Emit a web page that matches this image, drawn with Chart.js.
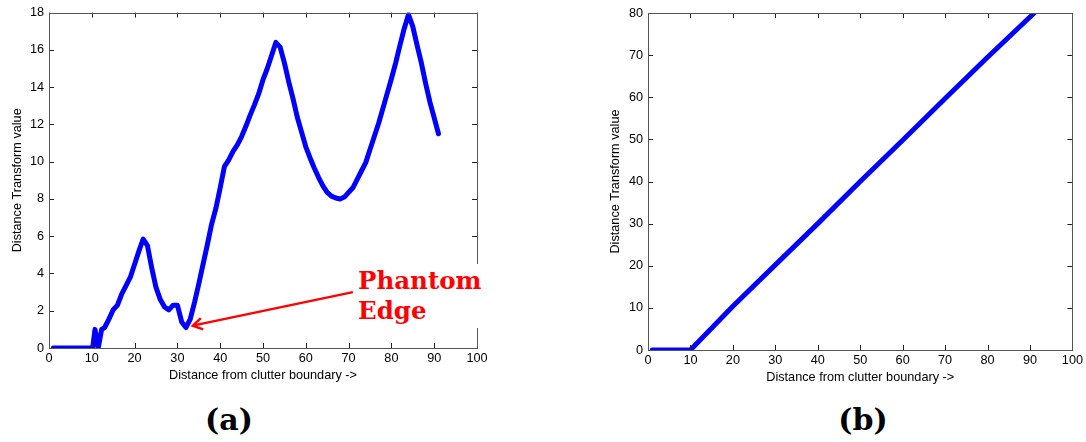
<!DOCTYPE html>
<html>
<head>
<meta charset="utf-8">
<script src="https://cdn.jsdelivr.net/npm/chart.js@4"></script>
<style>
  body { margin: 0; background: #fff; width: 1086px; height: 442px; overflow: hidden; position: relative; }
  canvas { position: absolute; top: 0; }
  #chartA { left: 0; }
  #chartB { left: 580px; }
  .tag { position: absolute; font-family: "DejaVu Serif"; font-weight: bold; font-size: 30px; line-height: 30px; color: #000; transform: translateX(-50%); }
  #phantom { position: absolute; left: 358px; top: 264px; width: 127px; padding-top: 2px; height: 62px;
             background: #fff; color: #ff0000; font-family: "DejaVu Serif"; font-weight: bold;
             font-size: 24.5px; line-height: 30px; z-index: 2; }
</style>
</head>
<body>
<canvas id="chartA" width="500" height="400"></canvas>
<canvas id="chartB" width="506" height="400"></canvas>
<div class="tag" style="left:229px; top:405px;">(a)</div>
<div class="tag" style="left:863px; top:405px;">(b)</div>
<div id="phantom">Phantom<br>Edge</div>
<script>
// (a) distance transform along the profile
let xsA = [1, 2, 3, 4, 5, 6, 7, 8, 9, 10.2, 10.75, 11.5, 12.3, 13, 14, 15, 16, 17, 18, 19,
           20, 21, 22, 23, 24, 25, 26, 27, 28, 29, 30, 31, 32, 33, 34, 35, 36, 37, 38, 39,
           40, 41, 42, 43, 44, 45, 46, 47, 48, 49, 50, 51, 52, 53, 54, 55, 56, 57, 58, 59,
           60, 61, 62, 63, 64, 65, 66, 67, 68, 69, 70, 71, 72, 73, 74, 75, 76, 77, 78, 79,
           80, 81, 82, 83, 84, 85, 86, 87, 88, 89, 90, 91];
let ysA = [0, 0, 0, 0, 0, 0, 0, 0, 0, 0, 1.0, 0, 1.0, 1.1, 1.55, 2.05, 2.3, 2.9, 3.35, 3.8,
           4.5, 5.2, 5.85, 5.5, 4.3, 3.25, 2.6, 2.2, 2.05, 2.3, 2.3, 1.4, 1.1, 1.55, 2.45, 3.45, 4.5, 5.55, 6.65, 7.5,
           8.6, 9.75, 10.1, 10.55, 10.9, 11.35, 11.9, 12.5, 13.05, 13.65, 14.4, 15.0, 15.7, 16.4, 16.15, 15.3, 14.3, 13.4, 12.4, 11.6,
           10.8, 10.2, 9.65, 9.15, 8.7, 8.35, 8.15, 8.05, 8.0, 8.1, 8.35, 8.6, 9.05, 9.5, 9.95, 10.65, 11.35, 12.05, 12.85, 13.65,
           14.45, 15.3, 16.25, 17.15, 17.9, 17.25, 16.25, 15.3, 14.2, 13.2, 12.35, 11.5];

// (b) distance transform without phantom edge
let xsB = [1, 10, 20, 30, 40, 50, 60, 70, 80, 91];
let ysB = [0, 0, 10.4, 20.2, 30, 40, 49.8, 59.7, 69.5, 80];

// arrow of the annotation, in data units: tail -> tip
let arrowTail = [71, 3];
let arrowTip = [33.6, 1.2];

let tickFont = { family: "Liberation Sans", size: 12.7 };

let frameTicks = {
  id: 'frameTicks',
  afterDraw(chart) {
    let ctx = chart.ctx, a = chart.chartArea;
    let xs = chart.scales.x, ys = chart.scales.y;
    ctx.save();
    ctx.strokeStyle = '#222';
    ctx.lineWidth = 1;
    ctx.beginPath();
    xs.ticks.forEach(t => {
      let px = Math.round(xs.getPixelForValue(t.value)) + 0.5;
      ctx.moveTo(px, a.bottom); ctx.lineTo(px, a.bottom - 5);
      ctx.moveTo(px, a.top); ctx.lineTo(px, a.top + 5);
    });
    ys.ticks.forEach(t => {
      let py = Math.round(ys.getPixelForValue(t.value)) + 0.5;
      ctx.moveTo(a.left, py); ctx.lineTo(a.left + 5, py);
      ctx.moveTo(a.right, py); ctx.lineTo(a.right - 5, py);
    });
    ctx.stroke();
    ctx.strokeStyle = '#555';
    ctx.strokeRect(Math.round(a.left) + 0.5, Math.round(a.top) + 0.5,
                   Math.round(a.right - a.left), Math.round(a.bottom - a.top));
    ctx.restore();
  }
};

let arrowPlugin = {
  id: 'arrow',
  afterDatasetsDraw(chart) {
    let ctx = chart.ctx, xs = chart.scales.x, ys = chart.scales.y;
    let x0 = xs.getPixelForValue(arrowTail[0]), y0 = ys.getPixelForValue(arrowTail[1]);
    let x1 = xs.getPixelForValue(arrowTip[0]), y1 = ys.getPixelForValue(arrowTip[1]);
    let ang = Math.atan2(y1 - y0, x1 - x0);
    ctx.save();
    ctx.strokeStyle = '#ff0000';
    ctx.lineWidth = 2.5;
    ctx.beginPath();
    ctx.moveTo(x0, y0); ctx.lineTo(x1, y1);
    ctx.moveTo(x1 - 11 * Math.cos(ang - 0.55), y1 - 11 * Math.sin(ang - 0.55));
    ctx.lineTo(x1, y1);
    ctx.lineTo(x1 - 11 * Math.cos(ang + 0.55), y1 - 11 * Math.sin(ang + 0.55));
    ctx.stroke();
    ctx.restore();
  }
};

function makeChart(id, xs, ys, yMax, yStep, yWidth, pad, yTitlePad, extra)
{
  let points = [];
  for (let i = 0; i < xs.length; ++i)
  {
    points.push({ x: xs[i], y: ys[i] });
  }
  return new Chart(document.getElementById(id), {
    type: 'line',
    data: {
      datasets: [{
        data: points,
        borderColor: '#0000ff',
        borderWidth: 5,
        borderJoinStyle: 'round',
        borderCapStyle: 'round',
        pointRadius: 0,
        tension: 0,
        fill: false
      }]
    },
    options: {
      responsive: false,
      animation: false,
      devicePixelRatio: 1,
      layout: { padding: pad },
      plugins: { legend: { display: false }, tooltip: { enabled: false } },
      scales: {
        x: {
          type: 'linear', min: 0, max: 100,
          ticks: { stepSize: 10, color: '#000', font: tickFont, padding: 3, maxRotation: 0 },
          grid: { display: false, drawTicks: false },
          border: { display: false },
          title: { display: true, text: 'Distance from clutter boundary ->', color: '#000',
                   font: tickFont, padding: { top: 0, bottom: 5 } },
          afterFit(s) { s.height = 40; }
        },
        y: {
          type: 'linear', min: 0, max: yMax,
          ticks: { stepSize: yStep, color: '#000', font: tickFont, padding: 5 },
          grid: { display: false, drawTicks: false },
          border: { display: false },
          title: { display: true, text: 'Distance Transform value', color: '#000',
                   font: tickFont, padding: { top: yTitlePad, bottom: 0 } },
          afterFit(s) { s.width = yWidth; }
        }
      }
    },
    plugins: [frameTicks].concat(extra)
  });
}

makeChart('chartA', xsA, ysA, 18, 2, 49, { left: 0, top: 10, right: 23, bottom: 12 }, 10, [arrowPlugin]);
makeChart('chartB', xsB, ysB, 80, 10, 68, { left: 0, top: 13, right: 10, bottom: 10 }, 28, []);
</script>
</body>
</html>
